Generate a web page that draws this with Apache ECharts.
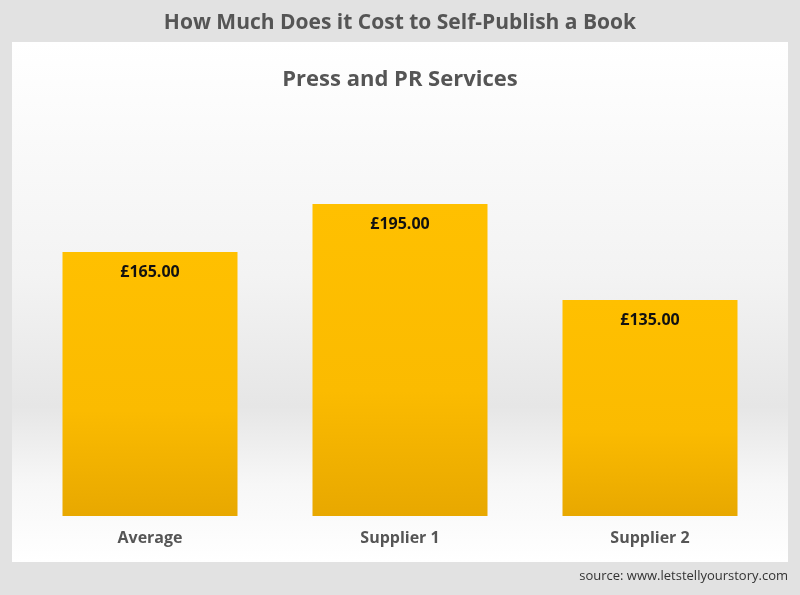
<!DOCTYPE html>
<html>
<head>
<meta charset="utf-8">
<script src="https://cdn.jsdelivr.net/npm/echarts@6/dist/echarts.min.js"></script>
<style>html,body{margin:0;padding:0;background:#e2e2e2}#chart{width:800px;height:595px}</style>
</head>
<body>
<div id="chart"></div>
<script>
var categories = ['Average', 'Supplier 1', 'Supplier 2'];
var costs = [165, 195, 135];

var myChart = echarts.init(document.getElementById('chart'));
var option = {
    backgroundColor: '#e2e2e2',
    textStyle: { fontFamily: 'Open Sans' },
    graphic: [
        {
            type: 'rect', left: 12, top: 42, z: -10,
            shape: { width: 776, height: 520 },
            style: {
                fill: new echarts.graphic.LinearGradient(0, 0, 0, 1, [
                    { offset: 0, color: '#ffffff' },
                    { offset: 0.45, color: '#f3f3f3' },
                    { offset: 0.7, color: '#e6e6e6' },
                    { offset: 0.85, color: '#f7f7f7' },
                    { offset: 1, color: '#ffffff' }
                ])
            }
        },
        {
            type: 'text', right: 12, top: 570,
            style: { text: 'source: www.letstellyourstory.com', fill: '#333', font: '13px "Open Sans"' }
        }
    ],
    title: [
        { text: 'How Much Does it Cost to Self-Publish a Book', left: 'center', top: 8,
          textStyle: { color: '#555', fontSize: 21, fontWeight: 'bold', fontFamily: 'Open Sans' } },
        { text: 'Press and PR Services', left: 'center', top: 64,
          textStyle: { color: '#555', fontSize: 22, fontWeight: 'bold', fontFamily: 'Open Sans' } }
    ],
    grid: { left: 25, right: 25, top: 116, bottom: 79 },
    xAxis: {
        type: 'category',
        data: categories,
        axisLine: { show: false },
        axisTick: { show: false },
        axisLabel: { color: '#555', fontSize: 16, fontWeight: 'bold', margin: 14 }
    },
    yAxis: {
        type: 'value', min: 0, max: 250,
        show: false,
        splitLine: { show: false }
    },
    series: [{
        type: 'bar',
        data: costs,
        barWidth: '70%',
        itemStyle: {
            color: new echarts.graphic.LinearGradient(0, 0, 0, 1, [
                { offset: 0, color: '#ffc000' },
                { offset: 0.6, color: '#fbbb00' },
                { offset: 1, color: '#e8a800' }
            ])
        },
        label: {
            show: true, position: 'insideTop', distance: 12,
            color: '#111', fontSize: 16, fontWeight: 'bold',
            formatter: function (p) { return '£' + p.value.toFixed(2); }
        }
    }]
};
myChart.setOption(option);
</script>
</body>
</html>
